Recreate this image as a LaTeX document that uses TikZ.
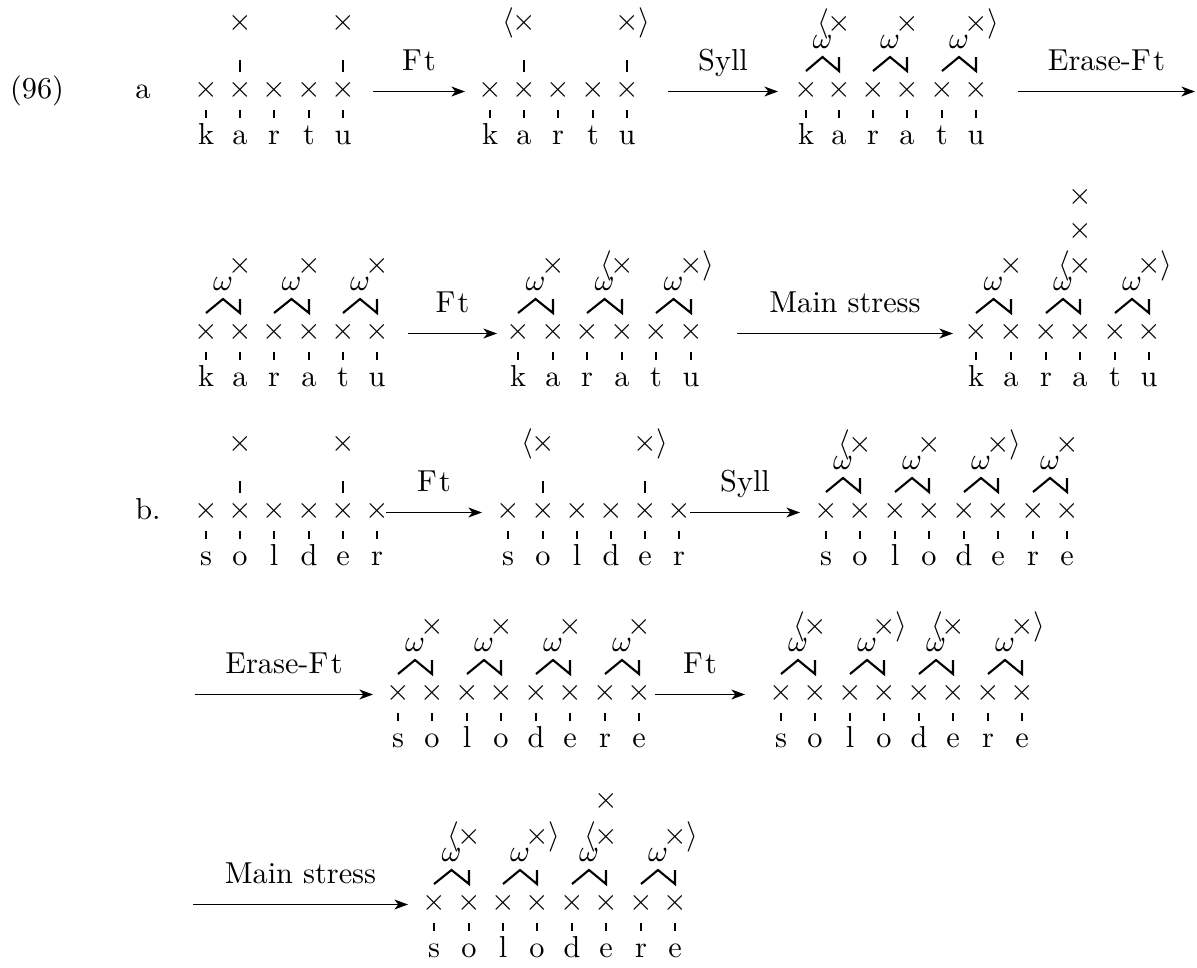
\documentclass[tikz,border=0pt]{standalone}
\usetikzlibrary{arrows.meta,calc}

% one tier of grid marks, association ticks and segments
\newcommand\segrow[3]{%
  \foreach \xx/\ll [count=\i] in {#3}{%
    \node[txt] (#1x\i) at (\xx,#2+7.6) {$\times$};
    \draw[tick] ($(#1x\i.base)+(0,12.4)$) -- ++(0,8);
    \node[txt] (#1s\i) at (\xx,#2+54) {\ll};
  }}
% a line-2 grid mark with its tick
\newcommand\headx[3]{%
  \node[txt] (#1) at (#2,#3-59.4) {$\times$};
  \draw[tick] ($(#1.base)+(0,29.4)$) -- ++(0,12);}
% a syllable: branching arms, omega and its grid mark
\newcommand\syl[4]{%
  \coordinate (#1p) at ({(#3+#4)/2},#2-33);
  \draw[arm] (#3,#2-19) -- (#1p) -- (#4,#2-19) -- (#4,#2-33);
  \node[txt] (#1w) at ({(#3+#4)/2},#2-42) {$\omega$};
  \node[txt] (#1x) at (#4,#2-58.4) {$\times$};}
% foot brackets attached to a grid mark
\newcommand\lbr[1]{\node[txt] (#1l) at ($(#1.base)+(-16,0)$) {$\langle$};}
\newcommand\rbr[1]{\node[txt] (#1r) at ($(#1.base)+(17,0)$) {$\rangle$};}
% a rule arrow with its name above
\newcommand\rulearrow[5]{%
  \coordinate (#1a) at (#2,#4);
  \coordinate (#1b) at (#3,#4);
  \draw[rule] (#1a) -- (#1b);
  \node[txt] (#1t) at ({(#2+#3)/2},#4-21) {#5};}

\newcommand\Ft{F\kern0.8pt t}

\begin{document}
\begin{tikzpicture}[x=0.33pt,y=-0.33pt,
  txt/.style={inner sep=0pt,anchor=base},
  tick/.style={line width=0.65pt},
  arm/.style={line width=0.7pt,line join=miter},
  rule/.style={line width=0.4pt,-{Stealth[length=4.5pt,width=3.3pt,inset=1.3pt]}}]
\useasboundingbox (0,0) rectangle (1197,968);

\node[txt] (num) at (37,98) {(96)};
\node[txt] (la) at (143,98) {a};
\node[txt] (lb) at (148,519) {b.};

% ---- (a) first line
\segrow{fa}{90}{206/k,240/a,274/r,309/t,343/u}
\headx{fah1}{240}{90}
\headx{fah2}{343}{90}
\rulearrow{ra}{373}{465}{91.5}{\Ft}

\segrow{fb}{90}{490/k,524/a,558/r,593/t,627/u}
\headx{fbh1}{524}{90}\lbr{fbh1}
\headx{fbh2}{627}{90}\rbr{fbh2}
\rulearrow{rb}{668}{778}{91.5}{Syll}

\segrow{fc}{90}{806/k,839/a,873/r,907/a,942/t,976/u}
\syl{fcs1}{90}{806}{839}\lbr{fcs1x}
\syl{fcs2}{90}{873}{907}
\syl{fcs3}{90}{942}{976}\rbr{fcs3x}
\rulearrow{rc}{1018}{1195}{91.5}{Erase-\Ft}

% ---- (a) second line
\segrow{fd}{332}{206/k,240/a,274/r,309/a,343/t,377/u}
\syl{fds1}{332}{206}{240}
\syl{fds2}{332}{274}{309}
\syl{fds3}{332}{343}{377}
\rulearrow{rd}{408}{497}{333.5}{\Ft}

\segrow{fe}{332}{518/k,553/a,587/r,622/a,656/t,691/u}
\syl{fes1}{332}{518}{553}
\syl{fes2}{332}{587}{622}\lbr{fes2x}
\syl{fes3}{332}{656}{691}\rbr{fes3x}
\rulearrow{re}{737}{953}{333.5}{Main stress}

\segrow{ff}{332}{976/k,1011/a,1046/r,1080/a,1115/t,1149/u}
\syl{ffs1}{332}{976}{1011}
\syl{ffs2}{332}{1046}{1080}\lbr{ffs2x}
\syl{ffs3}{332}{1115}{1149}\rbr{ffs3x}
\node[txt] (ffm1) at ($(ffs2x.base)+(0,-35)$) {$\times$};
\node[txt] (ffm2) at ($(ffs2x.base)+(0,-69)$) {$\times$};

% ---- (b) first line
\segrow{fg}{511}{206/s,240/o,274/l,309/d,343/e,377/r}
\headx{fgh1}{240}{511}
\headx{fgh2}{343}{511}
\rulearrow{rf}{386}{482}{512.5}{\Ft}

\segrow{fh}{511}{508/s,543/o,577/l,611/d,645/e,679/r}
\headx{fhh1}{543}{511}\lbr{fhh1}
\headx{fhh2}{645}{511}\rbr{fhh2}
\rulearrow{rg}{690}{800}{512.5}{Syll}

\segrow{fi}{511}{826/s,860/o,895/l,929/o,964/d,998/e,1033/r,1067/e}
\syl{fis1}{511}{826}{860}\lbr{fis1x}
\syl{fis2}{511}{895}{929}
\syl{fis3}{511}{964}{998}\rbr{fis3x}
\syl{fis4}{511}{1033}{1067}

% ---- (b) second line
\rulearrow{rh}{195}{373}{694.5}{Erase-\Ft}
\segrow{fj}{693}{398/s,432/o,467/l,501/o,536/d,570/e,605/r,639/e}
\syl{fjs1}{693}{398}{432}
\syl{fjs2}{693}{467}{501}
\syl{fjs3}{693}{536}{570}
\syl{fjs4}{693}{605}{639}
\rulearrow{ri}{655}{745}{694.5}{\Ft}

\segrow{fk}{693}{781/s,815/o,850/l,884/o,919/d,953/e,988/r,1022/e}
\syl{fks1}{693}{781}{815}\lbr{fks1x}
\syl{fks2}{693}{850}{884}\rbr{fks2x}
\syl{fks3}{693}{919}{953}\lbr{fks3x}
\syl{fks4}{693}{988}{1022}\rbr{fks4x}

% ---- (b) third line
\rulearrow{rj}{193}{408}{904.5}{Main stress}
\segrow{fl}{903}{434/s,469/o,503/l,537/o,572/d,606/e,641/r,675/e}
\syl{fls1}{903}{434}{469}\lbr{fls1x}
\syl{fls2}{903}{503}{537}\rbr{fls2x}
\syl{fls3}{903}{572}{606}\lbr{fls3x}
\syl{fls4}{903}{641}{675}\rbr{fls4x}
\node[txt] (flm1) at ($(fls3x.base)+(0,-36)$) {$\times$};
\end{tikzpicture}
\end{document}
